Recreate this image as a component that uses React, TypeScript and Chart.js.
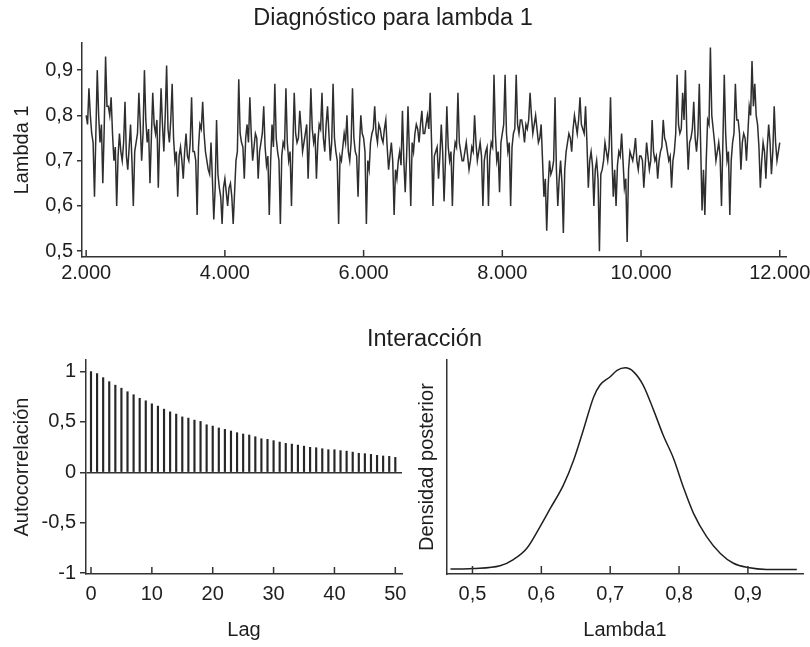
import React, { useEffect, useRef } from 'react';
import { Chart, registerables } from 'chart.js';

Chart.register(...registerables);

const FONT = "'Liberation Sans', Arial, Helvetica, sans-serif";
const TEXT = '#1e1e1e';
const AXIS = '#333333';

// ---------- Top panel: trace of lambda 1 (iterations 2.000 – 12.000, one value every 20 iterations) ----------
const TITLE_TOP = 'Diagnóstico para lambda 1';
const TRACE_START = 2000;
const TRACE_STEP = 20;
const TRACE_X_TICKS = [2000, 4000, 6000, 8000, 10000, 12000];
const trace2000 = [0.80, 0.78, 0.86, 0.80, 0.76, 0.74, 0.62, 0.76, 0.90, 0.80, 0.74, 0.78, 0.65, 0.77, 0.93, 0.82, 0.82, 0.80, 0.84, 0.76, 0.70, 0.73, 0.60, 0.71, 0.76, 0.72, 0.70, 0.74, 0.83, 0.71, 0.68, 0.73, 0.78, 0.70, 0.60, 0.72, 0.74, 0.76, 0.85, 0.78, 0.70, 0.76, 0.90, 0.79, 0.74, 0.77, 0.65, 0.75, 0.85, 0.78];
const trace3000 = [0.76, 0.79, 0.64, 0.76, 0.86, 0.78, 0.72, 0.80, 0.91, 0.77, 0.74, 0.79, 0.87, 0.75, 0.70, 0.72, 0.62, 0.71, 0.73, 0.70, 0.66, 0.72, 0.76, 0.71, 0.70, 0.74, 0.84, 0.72, 0.72, 0.70, 0.58, 0.73, 0.78, 0.77, 0.83, 0.76, 0.72, 0.70, 0.68, 0.67, 0.74, 0.66, 0.57, 0.64, 0.79, 0.67, 0.64, 0.62, 0.56, 0.64];
const trace4000 = [0.66, 0.63, 0.60, 0.64, 0.65, 0.62, 0.56, 0.63, 0.70, 0.72, 0.88, 0.76, 0.74, 0.73, 0.66, 0.75, 0.78, 0.74, 0.84, 0.76, 0.70, 0.73, 0.76, 0.75, 0.66, 0.72, 0.74, 0.76, 0.82, 0.73, 0.69, 0.71, 0.58, 0.70, 0.78, 0.73, 0.87, 0.75, 0.72, 0.70, 0.56, 0.71, 0.74, 0.73, 0.86, 0.74, 0.70, 0.72, 0.60, 0.73];
const trace5000 = [0.85, 0.76, 0.74, 0.75, 0.81, 0.77, 0.72, 0.74, 0.76, 0.78, 0.66, 0.75, 0.86, 0.77, 0.74, 0.76, 0.66, 0.74, 0.78, 0.77, 0.85, 0.75, 0.72, 0.78, 0.82, 0.76, 0.70, 0.74, 0.87, 0.75, 0.72, 0.70, 0.56, 0.71, 0.70, 0.73, 0.76, 0.74, 0.80, 0.72, 0.70, 0.74, 0.86, 0.75, 0.72, 0.71, 0.62, 0.73, 0.80, 0.76];
const trace6000 = [0.75, 0.72, 0.56, 0.70, 0.68, 0.74, 0.76, 0.77, 0.82, 0.76, 0.74, 0.78, 0.77, 0.75, 0.74, 0.77, 0.79, 0.73, 0.68, 0.71, 0.74, 0.70, 0.58, 0.68, 0.66, 0.70, 0.72, 0.69, 0.81, 0.70, 0.63, 0.71, 0.82, 0.72, 0.60, 0.74, 0.72, 0.76, 0.78, 0.77, 0.74, 0.78, 0.81, 0.76, 0.76, 0.78, 0.80, 0.77, 0.85, 0.74];
const trace7000 = [0.60, 0.71, 0.72, 0.73, 0.66, 0.71, 0.78, 0.72, 0.61, 0.70, 0.82, 0.73, 0.70, 0.72, 0.60, 0.71, 0.74, 0.73, 0.85, 0.74, 0.72, 0.70, 0.70, 0.72, 0.74, 0.71, 0.68, 0.70, 0.73, 0.72, 0.80, 0.74, 0.70, 0.72, 0.74, 0.71, 0.60, 0.70, 0.72, 0.73, 0.60, 0.71, 0.74, 0.73, 0.89, 0.76, 0.70, 0.72, 0.63, 0.74];
const trace8000 = [0.76, 0.78, 0.89, 0.76, 0.72, 0.74, 0.60, 0.73, 0.76, 0.77, 0.89, 0.78, 0.76, 0.79, 0.79, 0.77, 0.74, 0.78, 0.77, 0.79, 0.85, 0.80, 0.76, 0.78, 0.80, 0.77, 0.74, 0.75, 0.78, 0.70, 0.62, 0.66, 0.545, 0.64, 0.70, 0.67, 0.68, 0.70, 0.84, 0.68, 0.60, 0.66, 0.70, 0.65, 0.54, 0.68, 0.72, 0.74, 0.76, 0.75];
const trace9000 = [0.72, 0.77, 0.80, 0.78, 0.76, 0.79, 0.84, 0.78, 0.77, 0.76, 0.82, 0.74, 0.64, 0.70, 0.72, 0.69, 0.60, 0.68, 0.70, 0.66, 0.50, 0.67, 0.68, 0.70, 0.74, 0.72, 0.70, 0.73, 0.84, 0.71, 0.62, 0.68, 0.60, 0.69, 0.72, 0.71, 0.76, 0.70, 0.64, 0.66, 0.52, 0.68, 0.72, 0.71, 0.70, 0.72, 0.75, 0.70, 0.68, 0.71];
const trace10000 = [0.71, 0.70, 0.64, 0.69, 0.74, 0.71, 0.68, 0.70, 0.79, 0.72, 0.70, 0.71, 0.66, 0.70, 0.72, 0.73, 0.79, 0.75, 0.74, 0.72, 0.70, 0.71, 0.64, 0.70, 0.72, 0.76, 0.89, 0.78, 0.76, 0.77, 0.85, 0.79, 0.90, 0.76, 0.68, 0.74, 0.75, 0.77, 0.83, 0.75, 0.72, 0.76, 0.87, 0.73, 0.59, 0.68, 0.58, 0.70, 0.79, 0.78];
const trace11000 = [0.95, 0.80, 0.77, 0.74, 0.70, 0.72, 0.74, 0.71, 0.60, 0.74, 0.89, 0.76, 0.70, 0.72, 0.58, 0.70, 0.74, 0.76, 0.87, 0.79, 0.79, 0.76, 0.68, 0.74, 0.76, 0.75, 0.70, 0.76, 0.82, 0.80, 0.92, 0.82, 0.87, 0.80, 0.78, 0.73, 0.64, 0.70, 0.74, 0.72, 0.66, 0.73, 0.78, 0.74, 0.67, 0.72, 0.82, 0.74, 0.70, 0.72, 0.74];

// ---------- Bottom left: autocorrelation ----------
const TITLE_BOTTOM = 'Interacción';
const ACF_LAGS = [0, 1, 2, 3, 4, 5, 6, 7, 8, 9, 10, 11, 12, 13, 14, 15, 16, 17, 18, 19, 20, 21, 22, 23, 24, 25, 26, 27, 28, 29, 30, 31, 32, 33, 34, 35, 36, 37, 38, 39, 40, 41, 42, 43, 44, 45, 46, 47, 48, 49, 50];
const ACF_VALUES = [1.0, 0.98, 0.94, 0.90, 0.865, 0.835, 0.80, 0.77, 0.735, 0.71, 0.68, 0.657, 0.627, 0.60, 0.578, 0.55, 0.538, 0.518, 0.505, 0.472, 0.459, 0.44, 0.426, 0.41, 0.393, 0.38, 0.37, 0.353, 0.333, 0.327, 0.314, 0.30, 0.287, 0.28, 0.27, 0.26, 0.248, 0.244, 0.234, 0.224, 0.224, 0.215, 0.21, 0.20, 0.188, 0.185, 0.178, 0.168, 0.162, 0.158, 0.148];

// ---------- Bottom right: posterior density ----------
const DENS_X = [0.468, 0.50, 0.54, 0.56, 0.579, 0.598, 0.613, 0.632, 0.647, 0.661, 0.676, 0.685, 0.70, 0.71, 0.722, 0.734, 0.748, 0.763, 0.777, 0.792, 0.806, 0.821, 0.84, 0.86, 0.879, 0.90, 0.927, 0.971];
const DENS_Y = [0.03, 0.05, 0.14, 0.35, 0.71, 1.41, 2.01, 2.77, 3.59, 4.57, 5.65, 6.03, 6.31, 6.52, 6.6, 6.47, 6.03, 5.22, 4.4, 3.64, 2.72, 1.85, 1.09, 0.54, 0.22, 0.08, 0.02, 0.02];

const thousands = (v: number) => String(Math.round(v)).replace(/\B(?=(\d{3})+(?!\d))/g, '.');
const comma1 = (v: number) => v.toFixed(1).replace('.', ',');
const acfFmt = (v: number) => (Math.abs(v - Math.round(v)) < 1e-9 ? String(Math.round(v)) : comma1(v));

const fixW = (w: number) => (s: any) => {
  s.width = w;
  s.paddingTop = 0;
  s.paddingBottom = 0;
  s.paddingLeft = 0;
  s.paddingRight = 0;
};
const fixH = (h: number) => (s: any) => {
  s.height = h;
  s.paddingTop = 0;
  s.paddingBottom = 0;
  s.paddingLeft = 0;
  s.paddingRight = 0;
};

const inwardTicks = (len: number) => ({
  id: 'inwardTicks',
  afterDraw(chart: any) {
    const { ctx, chartArea, scales } = chart;
    const xs = scales.x;
    ctx.save();
    ctx.strokeStyle = AXIS;
    ctx.lineWidth = 1.5;
    xs.ticks.forEach((t: any) => {
      const px = xs.getPixelForValue(t.value);
      ctx.beginPath();
      ctx.moveTo(px, chartArea.bottom);
      ctx.lineTo(px, chartArea.bottom - len);
      ctx.stroke();
    });
    ctx.restore();
  },
});

const tickFont = { family: FONT, size: 20 };
const titleFont = { family: FONT, size: 20 };
const border = { display: true, color: AXIS, width: 1.5 };

function traceConfig(): any {
  const values = [...trace2000, ...trace3000, ...trace4000, ...trace5000, ...trace6000, ...trace7000, ...trace8000, ...trace9000, ...trace10000, ...trace11000];
  const points = values.map((v, i) => ({ x: TRACE_START + i * TRACE_STEP, y: v }));
  return {
    type: 'line',
    data: {
      datasets: [
        { data: points, borderColor: '#2e2e2e', borderWidth: 1.5, pointRadius: 0, tension: 0, fill: false },
      ],
    },
    options: {
      animation: false,
      responsive: false,
      devicePixelRatio: 1,
      layout: { padding: { left: 0, right: 24, top: 0, bottom: 0 } },
      plugins: {
        legend: { display: false },
        tooltip: { enabled: false },
        title: {
          display: true,
          text: TITLE_TOP,
          color: TEXT,
          font: { family: FONT, size: 23.5, weight: 'normal' },
          padding: { top: 4.4, bottom: 10.4 },
        },
      },
      scales: {
        x: {
          type: 'linear',
          min: 1940,
          max: 12090,
          afterFit: fixH(43),
          afterBuildTicks: (s: any) => {
            s.ticks = TRACE_X_TICKS.map((v) => ({ value: v }));
          },
          grid: { display: false, drawTicks: false },
          border,
          ticks: {
            padding: 4,
            color: TEXT,
            font: tickFont,
            maxRotation: 0,
            autoSkip: false,
            callback: (v: number) => thousands(v),
          },
        },
        y: {
          type: 'linear',
          min: 0.487,
          max: 0.96,
          afterFit: fixW(82),
          grid: { drawOnChartArea: false, drawTicks: true, tickLength: 5, color: AXIS, tickColor: AXIS, lineWidth: 1.5 },
          border,
          ticks: {
            stepSize: 0.1,
            includeBounds: false,
            padding: 4,
            color: TEXT,
            font: tickFont,
            callback: (v: number) => comma1(v),
          },
          title: { display: true, text: 'Lambda 1', color: TEXT, font: titleFont, padding: { top: 10, bottom: 0 } },
        },
      },
    },
    plugins: [inwardTicks(7)],
  };
}

function acfConfig(): any {
  return {
    type: 'bar',
    data: {
      datasets: [
        {
          data: ACF_LAGS.map((l, i) => ({ x: l, y: ACF_VALUES[i] })),
          backgroundColor: '#262626',
          borderWidth: 0,
          barThickness: 1.5,
        },
      ],
    },
    options: {
      animation: false,
      responsive: false,
      devicePixelRatio: 1,
      layout: { padding: { left: 0, right: 18, top: 60, bottom: 0 } },
      plugins: { legend: { display: false }, tooltip: { enabled: false }, title: { display: false } },
      scales: {
        x: {
          type: 'linear',
          min: -0.82,
          max: 51.1,
          offset: false,
          afterFit: fixH(73),
          grid: { display: false, drawTicks: false },
          border,
          ticks: {
            stepSize: 10,
            includeBounds: false,
            padding: 8,
            color: TEXT,
            font: tickFont,
            maxRotation: 0,
            autoSkip: false,
            callback: (v: number) => String(Math.round(v)),
          },
          title: { display: true, text: 'Lag', color: TEXT, font: titleFont, padding: { top: 0, bottom: 5 } },
        },
        y: {
          type: 'linear',
          min: -1.01,
          max: 1.115,
          afterFit: fixW(86),
          grid: {
            drawOnChartArea: true,
            drawTicks: true,
            tickLength: 6,
            lineWidth: 1.5,
            color: (ctx: any) => (ctx.tick && Math.abs(ctx.tick.value) < 1e-9 ? AXIS : 'rgba(0,0,0,0)'),
            tickColor: AXIS,
          },
          border,
          ticks: {
            stepSize: 0.5,
            includeBounds: false,
            padding: 4,
            color: TEXT,
            font: tickFont,
            callback: (v: number) => acfFmt(v),
          },
          title: { display: true, text: 'Autocorrelación', color: TEXT, font: titleFont, padding: { top: 10, bottom: 0 } },
        },
      },
    },
    plugins: [inwardTicks(7)],
  };
}

function densityConfig(): any {
  return {
    type: 'line',
    data: {
      datasets: [
        {
          data: DENS_X.map((x, i) => ({ x, y: DENS_Y[i] })),
          borderColor: '#1f1f1f',
          borderWidth: 1.5,
          pointRadius: 0,
          cubicInterpolationMode: 'monotone',
          fill: false,
        },
      ],
    },
    options: {
      animation: false,
      responsive: false,
      devicePixelRatio: 1,
      layout: { padding: { left: 0, right: 7, top: 0, bottom: 0 } },
      plugins: {
        legend: { display: false },
        tooltip: { enabled: false },
        title: {
          display: true,
          text: TITLE_BOTTOM,
          color: TEXT,
          font: { family: FONT, size: 23.5, weight: 'normal' },
          padding: { top: 25, bottom: 7 },
        },
      },
      scales: {
        x: {
          type: 'linear',
          min: 0.463,
          max: 0.98,
          afterFit: fixH(73),
          grid: { display: false, drawTicks: false },
          border,
          ticks: {
            stepSize: 0.1,
            includeBounds: false,
            padding: 8,
            color: TEXT,
            font: tickFont,
            maxRotation: 0,
            autoSkip: false,
            callback: (v: number) => comma1(v),
          },
          title: { display: true, text: 'Lambda1', color: TEXT, font: titleFont, padding: { top: 0, bottom: 5 } },
        },
        y: {
          type: 'linear',
          min: -0.13,
          max: 6.85,
          afterFit: fixW(401),
          grid: { display: false, drawTicks: false },
          border,
          ticks: { display: false },
          title: { display: true, text: 'Densidad posterior', color: TEXT, font: titleFont, padding: { top: 369, bottom: 0 } },
        },
      },
    },
    plugins: [inwardTicks(8)],
  };
}

export default function App() {
  const r1 = useRef<HTMLCanvasElement>(null);
  const r2 = useRef<HTMLCanvasElement>(null);
  const r3 = useRef<HTMLCanvasElement>(null);

  useEffect(() => {
    Chart.defaults.font.family = FONT;
    Chart.defaults.color = TEXT;
    const charts: Chart[] = [];
    if (r1.current) charts.push(new Chart(r1.current, traceConfig()));
    if (r2.current) charts.push(new Chart(r2.current, acfConfig()));
    if (r3.current) charts.push(new Chart(r3.current, densityConfig()));
    return () => charts.forEach((c) => c.destroy());
  }, []);

  return (
    <div style={{ position: 'absolute', left: 0, top: 0, width: 810, height: 647, background: '#ffffff', overflow: 'hidden' }}>
      <canvas ref={r1} width={810} height={300} style={{ position: 'absolute', left: 0, top: 0 }} />
      <canvas ref={r2} width={420} height={347} style={{ position: 'absolute', left: 0, top: 300 }} />
      <canvas ref={r3} width={764} height={347} style={{ position: 'absolute', left: 46, top: 300 }} />
    </div>
  );
}
